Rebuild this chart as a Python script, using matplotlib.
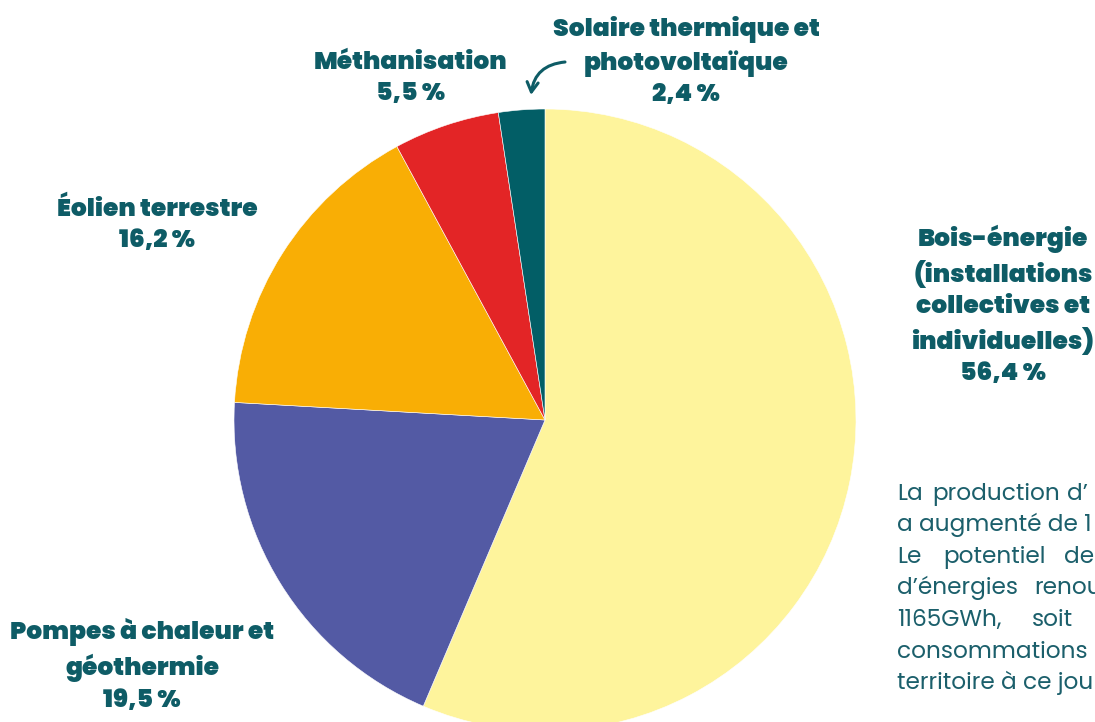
import matplotlib
matplotlib.use("Agg")
import matplotlib.pyplot as plt

# Data
categories = ["Bois-énergie", "Pompes à chaleur et géothermie", "Éolien terrestre",
              "Méthanisation", "Solaire thermique et photovoltaïque"]
values = [56.4, 19.5, 16.2, 5.5, 2.4]
colors = ["#FEF49C", "#535AA4", "#F9AE05", "#E32526", "#025E66"]
labels = [
    "Bois-énergie\n(installations\ncollectives et\nindividuelles)\n56,4 %",
    "Pompes à chaleur et\ngéothermie\n19,5 %",
    "Éolien terrestre\n16,2 %",
    "Méthanisation\n5,5 %",
    "Solaire thermique et\nphotovoltaïque\n2,4 %",
]

W, H = 1095, 722
TXT = "#0E5C66"
PAR = "#1B5F6B"

fig = plt.figure(figsize=(W / 100, H / 100), dpi=100)
ax = fig.add_axes([0, 0, 1, 1])

def py(y):
    return H - y

ax.pie(values, colors=colors, startangle=90, counterclock=False,
       center=(545, py(420)), radius=311,
       wedgeprops=dict(linewidth=0.4, edgecolor="white"))
ax.set_xlim(0, W)
ax.set_ylim(0, H)
ax.set_aspect("equal")
ax.axis("off")

fam = ["Poppins", "Lato", "DejaVu Sans"]
lab_pos = [(1003, 306), (142, 666), (157, 226), (411, 79), (686, 62)]
for lab, (x, y) in zip(labels, lab_pos):
    ax.text(x, py(y), lab, ha="center", va="center", color=TXT,
            fontsize=18, fontweight="black", family=fam, linespacing=1.36)

# curved arrow
ax.annotate("", xy=(531, py(95)), xytext=(565, py(62)),
            arrowprops=dict(arrowstyle="->,head_length=0.7,head_width=0.4",
                            color=TXT, lw=2.2, shrinkA=0, shrinkB=0,
                            connectionstyle="arc3,rad=0.4"))

# paragraph (partially cut off at right)
para = [
    [("La", 897), ("production", 932), ("d’", 1067)],
    [("a augmenté de 1", 897)],
    [("Le", 897), ("potentiel", 943), ("de", 1064)],
    [("d’énergies", 897), ("renou", 1034)],
    [("1165GWh,", 897), ("soit", 1032)],
    [("consommations", 897)],
    [("territoire à ce jou", 897)],
]
line_y = [500, 531, 563, 594, 626, 658, 689]
for words, y in zip(para, line_y):
    for w, x in words:
        ax.text(x, py(y), w, ha="left", va="baseline", color=PAR,
                fontsize=16.7, family=fam)

fig.savefig("out.png", dpi=100)
